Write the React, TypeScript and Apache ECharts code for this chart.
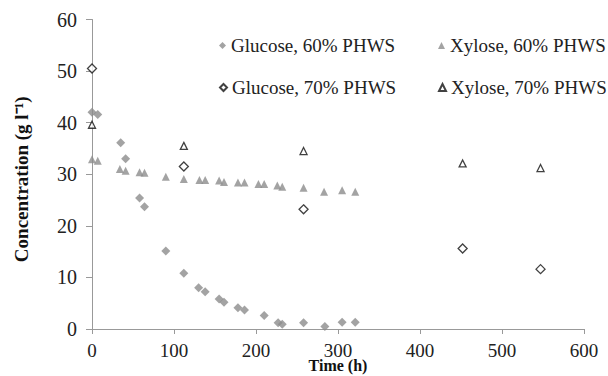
import React, { useEffect, useRef } from "react";
import * as echarts from "echarts";

const glucose60X = [0, 7, 35, 41, 58, 64, 90, 112, 130, 138, 155, 161, 178, 186, 210, 227, 232, 258, 284, 305, 321];
const glucose60Y = [42.0, 41.6, 36.1, 33.0, 25.4, 23.7, 15.1, 10.8, 8.0, 7.2, 5.8, 5.2, 4.1, 3.7, 2.6, 1.2, 0.9, 1.2, 0.5, 1.3, 1.3];

const xylose60X = [0, 7, 34, 41, 58, 64, 90, 112, 131, 138, 155, 161, 178, 186, 203, 210, 226, 232, 258, 283, 305, 321];
const xylose60Y = [32.9, 32.6, 31.0, 30.7, 30.4, 30.3, 29.5, 29.1, 28.9, 28.9, 28.8, 28.5, 28.4, 28.4, 28.1, 28.1, 27.8, 27.6, 27.4, 26.6, 26.9, 26.6];

const glucose70X = [0, 112, 258, 452, 547];
const glucose70Y = [50.5, 31.5, 23.2, 15.6, 11.6];

const xylose70X = [0, 112, 258, 452, 547];
const xylose70Y = [39.6, 35.5, 34.5, 32.1, 31.2];

const seriesNames = ["Glucose, 60% PHWS", "Xylose, 60% PHWS", "Glucose, 70% PHWS", "Xylose, 70% PHWS"];

const zip = (xs: number[], ys: number[]) => xs.map((x, i) => [x, ys[i]]);

export default function App() {
  const ref = useRef<HTMLDivElement>(null);
  useEffect(() => {
    document.body.style.margin = "0";
    if (!ref.current) return;
    const chart = echarts.init(ref.current, null, { renderer: "svg" });
    const font = "Liberation Serif";
    const grey = "#8c8c8c";
    const legendBase = {
      orient: "horizontal" as const,
      itemWidth: 7,
      itemHeight: 7,
      itemGap: 4,
      padding: 0,
      textStyle: { fontFamily: font, fontSize: 19, color: "#222" },
    };
    chart.setOption({
      animation: false,
      backgroundColor: "#fff",
      grid: { left: 92, right: 24, top: 19.5, bottom: 47, containLabel: false, outerBoundsMode: "none" },
      legend: [
        { ...legendBase, data: [seriesNames[0]], left: 219, top: 36 },
        { ...legendBase, data: [seriesNames[1]], left: 438, top: 36 },
        { ...legendBase, data: [seriesNames[2]], left: 219, top: 78 },
        { ...legendBase, data: [seriesNames[3]], left: 438, top: 78 },
      ],
      xAxis: {
        type: "value",
        min: 0,
        max: 600,
        interval: 100,
        name: "Time (h)",
        nameLocation: "middle",
        nameGap: 28,
        nameMoveOverlap: false,
        nameTextStyle: { fontFamily: font, fontSize: 16, fontWeight: "bold", color: "#111" },
        axisLine: { show: true, lineStyle: { color: "#999", width: 1 } },
        axisTick: { show: true, length: 5, lineStyle: { color: "#999" } },
        axisLabel: { fontFamily: font, fontSize: 19, color: "#222", margin: 12 },
        splitLine: { show: false },
      },
      yAxis: {
        type: "value",
        min: 0,
        max: 60,
        interval: 10,
        name: "Concentration (g l\u207B\u00B9)",
        nameLocation: "middle",
        nameRotate: 90,
        nameGap: 61,
        nameMoveOverlap: false,
        nameTextStyle: { fontFamily: font, fontSize: 19, fontWeight: "bold", color: "#111", padding: [0, 10, 0, 0] },
        axisLine: { show: true, lineStyle: { color: "#999", width: 1 } },
        axisTick: { show: true, length: 6, lineStyle: { color: "#999" } },
        axisLabel: { fontFamily: font, fontSize: 20, color: "#222", margin: 15 },
        splitLine: { show: false },
      },
      series: [
        {
          name: seriesNames[0],
          type: "scatter",
          symbol: "diamond",
          symbolSize: 9,
          itemStyle: { color: grey },
          data: zip(glucose60X, glucose60Y),
        },
        {
          name: seriesNames[1],
          type: "scatter",
          symbol: "triangle",
          symbolSize: 8,
          itemStyle: { color: grey },
          data: zip(xylose60X, xylose60Y),
        },
        {
          name: seriesNames[2],
          type: "scatter",
          symbol: "diamond",
          symbolSize: 9,
          itemStyle: { color: "#fff", borderColor: "#111", borderWidth: 1.3 },
          data: zip(glucose70X, glucose70Y),
        },
        {
          name: seriesNames[3],
          type: "scatter",
          symbol: "triangle",
          symbolSize: 7,
          itemStyle: { color: "#fff", borderColor: "#111", borderWidth: 1.3 },
          data: zip(xylose70X, xylose70Y),
        },
      ],
    });
    return () => chart.dispose();
  }, []);
  return <div ref={ref} style={{ width: 608, height: 376 }} />;
}
